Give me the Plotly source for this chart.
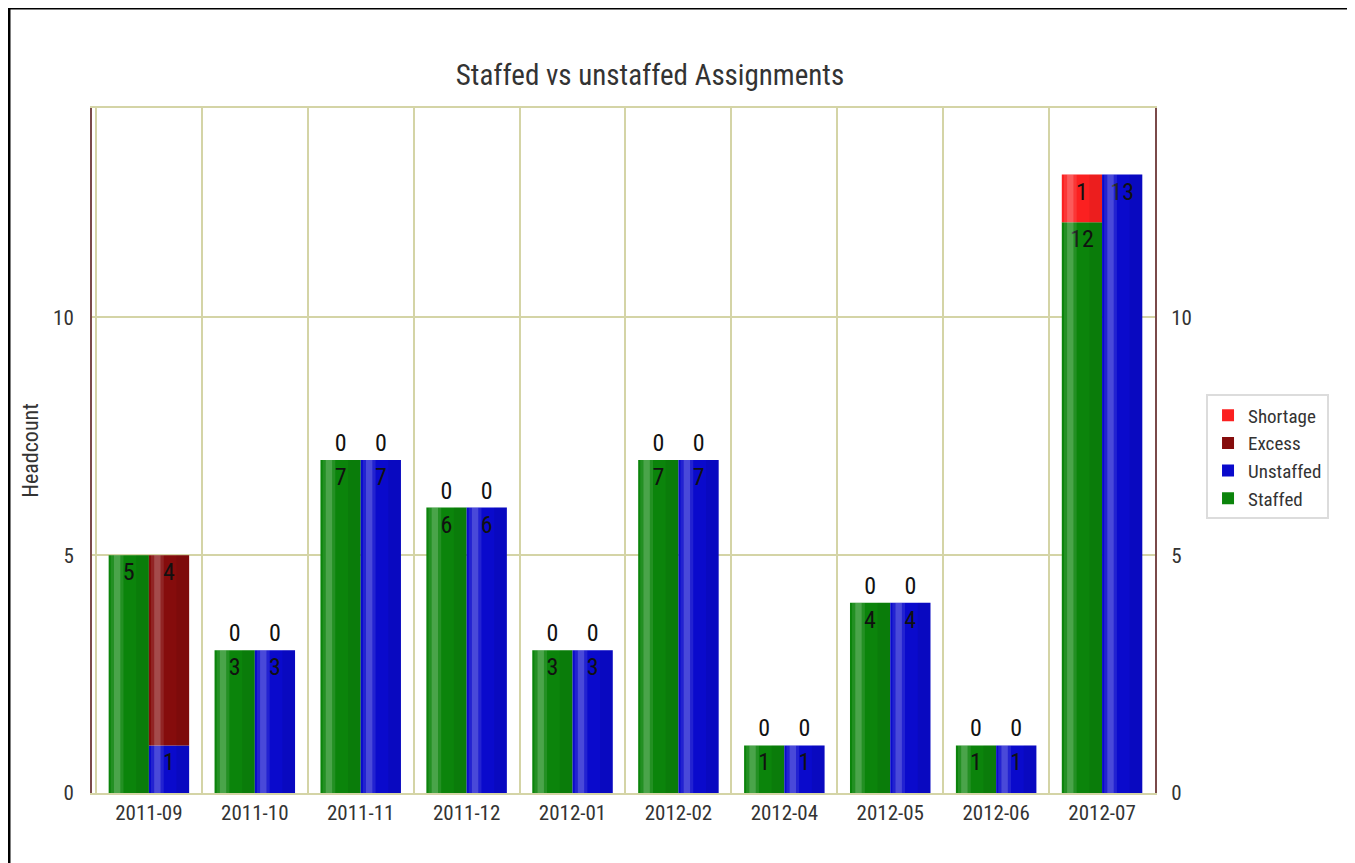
import plotly.graph_objects as go

months = ["2011-09", "2011-10", "2011-11", "2011-12", "2012-01",
          "2012-02", "2012-04", "2012-05", "2012-06", "2012-07"]
staffed = [5, 3, 7, 6, 3, 7, 1, 4, 1, 12]
shortage = [None, 0, 0, 0, 0, 0, 0, 0, 0, 1]
unstaffed = [1, 3, 7, 6, 3, 7, 1, 4, 1, 13]
excess = [4, 0, 0, 0, 0, 0, 0, 0, 0, None]

FONT = "Roboto Condensed, Liberation Sans Narrow, Arial Narrow, Roboto, sans-serif"
BW = 0.38  # width of one bar, in category units


def nz(vals):
    return [v if v is not None else 0 for v in vals]


def label(vals):
    return ["" if v is None else str(v) for v in vals]


def pos(vals):
    return ["outside" if v == 0 else "inside" for v in vals]


left_total = [a + b for a, b in zip(nz(staffed), nz(shortage))]
right_total = [a + b for a, b in zip(nz(unstaffed), nz(excess))]

fig = go.Figure()


def add_bar(y, base, name, color, offset, rank):
    fig.add_trace(go.Bar(x=months, y=y, base=base, name=name, legendrank=rank,
                         offset=offset, width=BW,
                         marker=dict(color=color, line=dict(width=0)),
                         text=label(y), textposition=pos(y), insidetextanchor="end"))


add_bar(staffed, None, "Staffed", "#0b840b", -BW, 4)
add_bar(shortage, nz(staffed), "Shortage", "#fb2020", -BW, 1)
add_bar(unstaffed, None, "Unstaffed", "#0a0acc", 0, 3)
add_bar(excess, nz(unstaffed), "Excess", "#850c0c", 0, 2)

fig.update_traces(textangle=0, cliponaxis=False, constraintext="none",
                  textfont=dict(family=FONT, size=24, color="#111"),
                  hoverinfo="x+y+name")

# glossy shading on each bar: light stripe on the left, darker right edge
for total, off in [(left_total, -BW), (right_total, 0)]:
    for w, dx, col in [(0.12, 0.02, "rgba(255,255,255,0.10)"),
                       (0.06, 0.05, "rgba(255,255,255,0.18)"),
                       (0.12, 0.26, "rgba(0,0,0,0.06)")]:
        fig.add_trace(go.Bar(x=months, y=total, offset=off + dx, width=w,
                             marker=dict(color=col, line=dict(width=0)),
                             showlegend=False, hoverinfo="skip"))

fig.update_layout(
    width=1347, height=855,
    barmode="overlay",
    paper_bgcolor="white", plot_bgcolor="white",
    font=dict(family=FONT, size=21, color="#333"),
    title=dict(text="Staffed vs unstaffed Assignments", x=0.4766, xanchor="center",
               y=1 - 67 / 855, yanchor="middle", font=dict(size=29, color="#333")),
    margin=dict(l=84, r=200, t=100, b=70, autoexpand=False),
    showlegend=True,
    legend=dict(x=1.048, xanchor="left", y=0.582, yanchor="top", traceorder="normal",
                bordercolor="#dcdcdc", borderwidth=2, bgcolor="white",
                font=dict(size=19, color="#333"), itemwidth=30, tracegroupgap=0),
    xaxis=dict(type="category", showgrid=True, gridcolor="#d4d4a6", gridwidth=1.5,
               showline=True, linecolor="#d4d4a6", linewidth=2, mirror=True, ticks="",
               tickson="boundaries", tickfont=dict(size=21, color="#333"), automargin=False),
    yaxis=dict(title=dict(text="Headcount", font=dict(size=22, color="#333"), standoff=8),
               range=[0, 14.4], tickvals=[0, 5, 10], showgrid=True, gridcolor="#d4d4a6",
               gridwidth=1.5, zeroline=False, showline=True, linecolor="#7a4a4a", linewidth=2,
               ticks="", tickfont=dict(size=21, color="#333"), ticklabelstandoff=12,
               automargin=False),
    yaxis2=dict(overlaying="y", side="right", range=[0, 14.4], tickvals=[0, 5, 10],
                showgrid=False, zeroline=False, showline=True, linecolor="#7a4a4a",
                linewidth=2, ticks="", tickfont=dict(size=21, color="#333"),
                ticklabelstandoff=10, automargin=False),
)
# empty trace so the right axis is drawn
fig.add_trace(go.Scatter(x=[months[0]], y=[None], yaxis="y2", showlegend=False,
                         hoverinfo="skip"))
# outer frame of the picture
fig.add_shape(type="rect", xref="paper", yref="paper",
              x0=-83 / 1063, x1=1.3, y0=-0.2, y1=1 + 100 / 685,
              line=dict(color="black", width=3), fillcolor="rgba(0,0,0,0)", layer="above")

fig.write_html("out.html")
